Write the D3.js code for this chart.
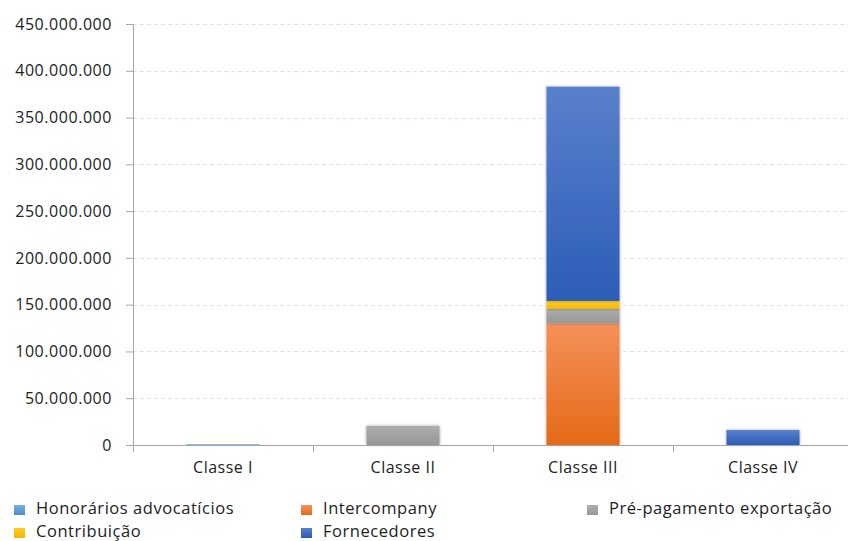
<!DOCTYPE html>
<html>
<head>
<meta charset="utf-8">
<script src="https://cdn.jsdelivr.net/npm/d3@7"></script>
<style>
  body { margin: 0; background: #fff; }
  text { font-family: "Open Sans", "DejaVu Sans", sans-serif; fill: #222; }
</style>
</head>
<body>
<svg id="chart" width="848" height="541"></svg>
<script>
// categories and series (values in R$)
var categories = ['Classe I', 'Classe II', 'Classe III', 'Classe IV'];
var seriesNames = ['Honorários advocatícios', 'Intercompany', 'Pré-pagamento exportação', 'Contribuição', 'Fornecedores'];
var honorarios = [800000, 0, 0, 0];
var intercompany = [0, 0, 130000000, 0];
var prePagamento = [0, 20500000, 15500000, 0];
var contribuicao = [0, 0, 8500000, 0];
var fornecedores = [0, 0, 229000000, 16000000];
var yTicks = [0, 50000000, 100000000, 150000000, 200000000, 250000000, 300000000, 350000000, 400000000, 450000000];

var seriesValues = [honorarios, intercompany, prePagamento, contribuicao, fornecedores];
// gradient stops (top, bottom)
var grads = [['#7DB0DE', '#4A8ACB'], ['#F4915A', '#E46A17'], ['#ADADAD', '#979797'], ['#FFCB26', '#F4B800'], ['#5A80CB', '#2C5DB8']];

var svg = d3.select('#chart');
var margin = { left: 133, right: -5, top: 24, bottom: 96 };
var width = 848 - margin.left - margin.right;
var height = 541 - margin.top - margin.bottom;

var defs = svg.append('defs');
grads.forEach(function (g, i) {
    var lg = defs.append('linearGradient').attr('id', 'g' + i)
        .attr('x1', 0).attr('y1', 0).attr('x2', 0).attr('y2', 1);
    lg.append('stop').attr('offset', '0%').attr('stop-color', g[0]);
    lg.append('stop').attr('offset', '100%').attr('stop-color', g[1]);
});
var f = defs.append('filter').attr('id', 'shadow')
    .attr('x', '-20%').attr('y', '-20%').attr('width', '140%').attr('height', '140%');
f.append('feDropShadow').attr('dx', 0).attr('dy', 0).attr('stdDeviation', 1.5)
    .attr('flood-color', '#000').attr('flood-opacity', 0.35);

var g = svg.append('g').attr('transform', 'translate(' + margin.left + ',' + margin.top + ')');

var x = d3.scaleBand().domain(categories).range([0, width]).paddingInner(0.594).paddingOuter(0.297);
var y = d3.scaleLinear().domain([0, 450000000]).range([height, 0]);

var fmt = function (v) { return d3.format(',')(v).replace(/,/g, '.'); };

// gridlines
g.append('g').selectAll('line').data(yTicks.slice(1)).enter().append('line')
    .attr('x1', 0).attr('x2', width)
    .attr('y1', function (d) { return Math.round(y(d)) + 0.5; })
    .attr('y2', function (d) { return Math.round(y(d)) + 0.5; })
    .attr('stroke', '#D9E2F3').attr('stroke-dasharray', '4,3');

// stacked bars
var rows = categories.map(function (c, i) {
    var r = { cat: c };
    seriesNames.forEach(function (s, j) { r[s] = seriesValues[j][i]; });
    return r;
});
var stack = d3.stack().keys(seriesNames)(rows);

var bars = g.append('g');
stack.forEach(function (layer, j) {
    bars.selectAll('.s' + j).data(layer.filter(function (d) { return d[1] - d[0] > 0; }))
        .enter().append('rect')
        .attr('x', function (d) { return x(d.data.cat); })
        .attr('width', x.bandwidth())
        .attr('y', function (d) { return y(d[1]); })
        .attr('height', function (d) { return Math.max(1, y(d[0]) - y(d[1])); })
        .attr('fill', 'url(#g' + j + ')')
        .attr('filter', 'url(#shadow)');
});

// y axis
var yAxis = g.append('g').call(d3.axisLeft(y).tickValues(yTicks).tickFormat(fmt).tickSize(7).tickPadding(14));
yAxis.select('.domain').attr('stroke', '#A6A6A6');
yAxis.selectAll('.tick line').attr('stroke', '#A6A6A6');
yAxis.selectAll('text').style('font-size', '16px').style('letter-spacing', '0.55px').attr('fill', '#222');

// x axis
var xAxis = g.append('g').attr('transform', 'translate(0,' + height + ')')
    .call(d3.axisBottom(x).tickSize(0).tickPadding(17));
xAxis.select('.domain').attr('stroke', '#A6A6A6');
xAxis.selectAll('text').style('font-size', '16px').style('letter-spacing', '0.5px').attr('fill', '#222');
var edges = [0].concat(categories.map(function (c) { return x(c) + x.bandwidth() + x.step() * x.paddingInner() / 2; }));
xAxis.selectAll('.sep').data(edges.slice(0, 4)).enter().append('line')
    .attr('x1', function (d) { return Math.round(d) + 0.5; })
    .attr('x2', function (d) { return Math.round(d) + 0.5; })
    .attr('y1', 0).attr('y2', 7).attr('stroke', '#A6A6A6');

// legend
var legendPos = [[14, 509], [301, 509], [587, 509], [14, 532], [301, 532]];
var legend = svg.append('g');
seriesNames.forEach(function (s, i) {
    var p = legendPos[i];
    legend.append('rect').attr('x', p[0]).attr('y', p[1] - 4).attr('width', 11).attr('height', 10)
        .attr('fill', 'url(#g' + i + ')');
    legend.append('text').attr('x', p[0] + 22).attr('y', p[1]).attr('dy', '0.3em')
        .style('font-size', '16.5px').style('letter-spacing', '0.55px').text(s);
});
</script>
</body>
</html>
